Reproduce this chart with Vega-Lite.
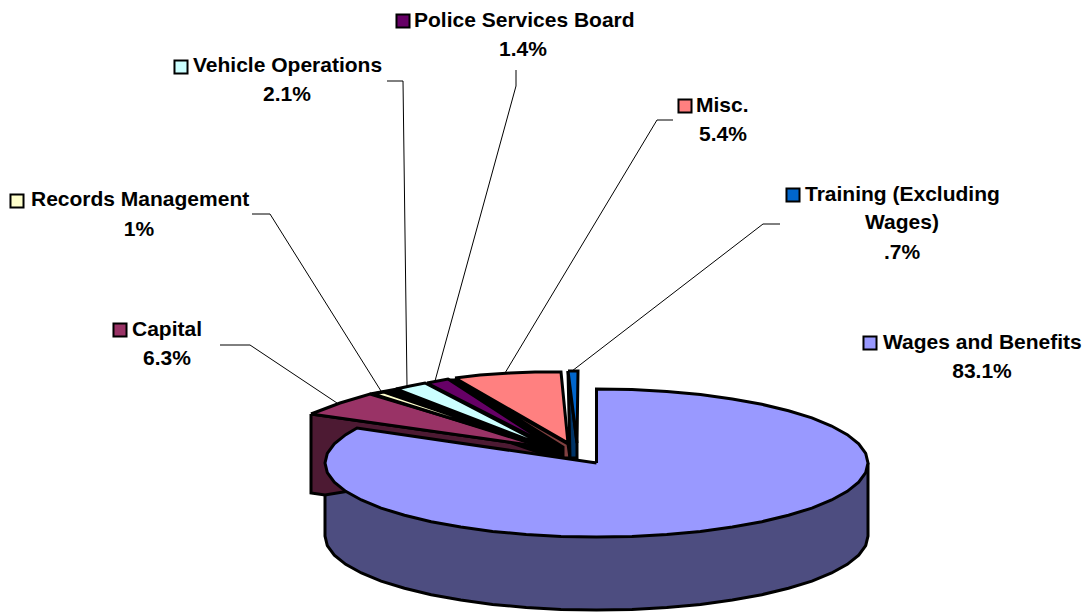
{"$schema":"https://vega.github.io/schema/vega-lite/v6.json","autosize":"none","width":1085,"height":612,"padding":0,"background":"white","view":{"stroke":null},
"datasets":{
"shapes":[
{"part":"Wages side","o":1,"x":868,"y":463},{"part":"Wages side","o":2,"x":868,"y":536},{"part":"Wages side","o":3,"x":865.7,"y":545.7},{"part":"Wages side","o":4,"x":858.7,"y":555.2},{"part":"Wages side","o":5,"x":847.3,"y":564.3},{"part":"Wages side","o":6,"x":831.6,"y":573},{"part":"Wages side","o":7,"x":811.9,"y":581.1},{"part":"Wages side","o":8,"x":788.5,"y":588.3},{"part":"Wages side","o":9,"x":761.8,"y":594.7},{"part":"Wages side","o":10,"x":732.3,"y":600.1},{"part":"Wages side","o":11,"x":700.4,"y":604.4},{"part":"Wages side","o":12,"x":666.8,"y":607.5},{"part":"Wages side","o":13,"x":632,"y":609.4},{"part":"Wages side","o":14,"x":596.5,"y":610},{"part":"Wages side","o":15,"x":561,"y":609.4},{"part":"Wages side","o":16,"x":526.2,"y":607.5},{"part":"Wages side","o":17,"x":492.6,"y":604.4},{"part":"Wages side","o":18,"x":460.8,"y":600.1},{"part":"Wages side","o":19,"x":431.2,"y":594.7},{"part":"Wages side","o":20,"x":404.5,"y":588.3},{"part":"Wages side","o":21,"x":381.1,"y":581.1},{"part":"Wages side","o":22,"x":361.4,"y":573},{"part":"Wages side","o":23,"x":345.7,"y":564.3},{"part":"Wages side","o":24,"x":334.3,"y":555.2},{"part":"Wages side","o":25,"x":327.3,"y":545.7},{"part":"Wages side","o":26,"x":325,"y":536},{"part":"Wages side","o":27,"x":325,"y":463},{"part":"Wages side","o":28,"x":868,"y":463},
{"part":"Capital side","o":1,"x":311,"y":414},{"part":"Capital side","o":2,"x":550,"y":448},{"part":"Capital side","o":3,"x":552,"y":458},{"part":"Capital side","o":4,"x":325,"y":495},{"part":"Capital side","o":5,"x":311,"y":493},{"part":"Capital side","o":6,"x":311,"y":414},
{"part":"Records side","o":1,"x":370,"y":394},{"part":"Records side","o":2,"x":397,"y":389},{"part":"Records side","o":3,"x":572,"y":443},{"part":"Records side","o":4,"x":572,"y":459},{"part":"Records side","o":5,"x":552,"y":457},{"part":"Records side","o":6,"x":370,"y":394},
{"part":"Misc gap","o":1,"x":448,"y":380},{"part":"Misc gap","o":2,"x":456,"y":380},{"part":"Misc gap","o":3,"x":568,"y":444},{"part":"Misc gap","o":4,"x":556,"y":449},{"part":"Misc gap","o":5,"x":448,"y":380},
{"part":"Records front","o":1,"x":552.5,"y":449},{"part":"Records front","o":2,"x":555,"y":449},{"part":"Records front","o":3,"x":555,"y":457},{"part":"Records front","o":4,"x":552.5,"y":457},{"part":"Records front","o":5,"x":552.5,"y":449},
{"part":"Capital","o":1,"x":311,"y":414},{"part":"Capital","o":2,"x":340,"y":403},{"part":"Capital","o":3,"x":370,"y":394},{"part":"Capital","o":4,"x":550,"y":448},{"part":"Capital","o":5,"x":311,"y":414},
{"part":"Records Management","o":1,"x":373,"y":394},{"part":"Records Management","o":2,"x":384,"y":392},{"part":"Records Management","o":3,"x":552,"y":450},{"part":"Records Management","o":4,"x":373,"y":394},
{"part":"Vehicle Operations","o":1,"x":396,"y":389},{"part":"Vehicle Operations","o":2,"x":410,"y":386},{"part":"Vehicle Operations","o":3,"x":425,"y":383},{"part":"Vehicle Operations","o":4,"x":552,"y":449},{"part":"Vehicle Operations","o":5,"x":396,"y":389},
{"part":"Police Services Board","o":1,"x":427,"y":383},{"part":"Police Services Board","o":2,"x":448,"y":379},{"part":"Police Services Board","o":3,"x":556,"y":449},{"part":"Police Services Board","o":4,"x":427,"y":383},
{"part":"Misc. side","o":1,"x":456,"y":380},{"part":"Misc. side","o":2,"x":568,"y":444},{"part":"Misc. side","o":3,"x":570,"y":458},{"part":"Misc. side","o":4,"x":563,"y":458},{"part":"Misc. side","o":5,"x":563,"y":447},{"part":"Misc. side","o":6,"x":456,"y":380},
{"part":"Misc.","o":1,"x":455,"y":378},{"part":"Misc.","o":2,"x":480,"y":375},{"part":"Misc.","o":3,"x":510,"y":373},{"part":"Misc.","o":4,"x":535,"y":372},{"part":"Misc.","o":5,"x":561,"y":372},{"part":"Misc.","o":6,"x":568,"y":443},{"part":"Misc.","o":7,"x":455,"y":378},
{"part":"Training side","o":1,"x":568,"y":371},{"part":"Training side","o":2,"x":577,"y":443},{"part":"Training side","o":3,"x":577,"y":458},{"part":"Training side","o":4,"x":570,"y":458},{"part":"Training side","o":5,"x":568,"y":371},
{"part":"Training (Excluding Wages)","o":1,"x":568,"y":371},{"part":"Training (Excluding Wages)","o":2,"x":578,"y":371},{"part":"Training (Excluding Wages)","o":3,"x":577,"y":443},{"part":"Training (Excluding Wages)","o":4,"x":568,"y":371},
{"part":"Wages and Benefits","o":1,"x":596.5,"y":463},{"part":"Wages and Benefits","o":2,"x":596.5,"y":389},{"part":"Wages and Benefits","o":3,"x":632,"y":389.6},{"part":"Wages and Benefits","o":4,"x":666.8,"y":391.5},{"part":"Wages and Benefits","o":5,"x":700.4,"y":394.6},{"part":"Wages and Benefits","o":6,"x":732.3,"y":398.9},{"part":"Wages and Benefits","o":7,"x":761.8,"y":404.3},{"part":"Wages and Benefits","o":8,"x":788.5,"y":410.7},{"part":"Wages and Benefits","o":9,"x":811.9,"y":417.9},{"part":"Wages and Benefits","o":10,"x":831.6,"y":426},{"part":"Wages and Benefits","o":11,"x":847.3,"y":434.7},{"part":"Wages and Benefits","o":12,"x":858.7,"y":443.8},{"part":"Wages and Benefits","o":13,"x":865.7,"y":453.3},{"part":"Wages and Benefits","o":14,"x":868,"y":463},{"part":"Wages and Benefits","o":15,"x":865.7,"y":472.7},{"part":"Wages and Benefits","o":16,"x":858.7,"y":482.2},{"part":"Wages and Benefits","o":17,"x":847.3,"y":491.3},{"part":"Wages and Benefits","o":18,"x":831.6,"y":500},{"part":"Wages and Benefits","o":19,"x":811.9,"y":508.1},{"part":"Wages and Benefits","o":20,"x":788.5,"y":515.3},{"part":"Wages and Benefits","o":21,"x":761.8,"y":521.7},{"part":"Wages and Benefits","o":22,"x":732.3,"y":527.1},{"part":"Wages and Benefits","o":23,"x":700.4,"y":531.4},{"part":"Wages and Benefits","o":24,"x":666.8,"y":534.5},{"part":"Wages and Benefits","o":25,"x":632,"y":536.4},{"part":"Wages and Benefits","o":26,"x":596.5,"y":537},{"part":"Wages and Benefits","o":27,"x":561,"y":536.4},{"part":"Wages and Benefits","o":28,"x":526.2,"y":534.5},{"part":"Wages and Benefits","o":29,"x":492.6,"y":531.4},{"part":"Wages and Benefits","o":30,"x":460.8,"y":527.1},{"part":"Wages and Benefits","o":31,"x":431.2,"y":521.7},{"part":"Wages and Benefits","o":32,"x":404.5,"y":515.3},{"part":"Wages and Benefits","o":33,"x":381.1,"y":508.1},{"part":"Wages and Benefits","o":34,"x":361.4,"y":500},{"part":"Wages and Benefits","o":35,"x":345.7,"y":491.3},{"part":"Wages and Benefits","o":36,"x":334.3,"y":482.2},{"part":"Wages and Benefits","o":37,"x":327.3,"y":472.7},{"part":"Wages and Benefits","o":38,"x":325,"y":463},{"part":"Wages and Benefits","o":39,"x":327.3,"y":453.3},{"part":"Wages and Benefits","o":40,"x":334.3,"y":443.8},{"part":"Wages and Benefits","o":41,"x":345.7,"y":434.7},{"part":"Wages and Benefits","o":42,"x":357,"y":428},{"part":"Wages and Benefits","o":43,"x":596.5,"y":463}
],
"leaders":[
{"k":"Capital","o":1,"x":220,"y":345},{"k":"Capital","o":2,"x":250,"y":345},{"k":"Capital","o":3,"x":337,"y":403},
{"k":"Records","o":1,"x":252,"y":214},{"k":"Records","o":2,"x":270,"y":214},{"k":"Records","o":3,"x":381,"y":391},
{"k":"Vehicle","o":1,"x":387,"y":81},{"k":"Vehicle","o":2,"x":403,"y":81},{"k":"Vehicle","o":3,"x":407,"y":386},
{"k":"Police","o":1,"x":516,"y":70},{"k":"Police","o":2,"x":516,"y":86},{"k":"Police","o":3,"x":435,"y":381},
{"k":"Misc","o":1,"x":673,"y":120},{"k":"Misc","o":2,"x":657,"y":120},{"k":"Misc","o":3,"x":505,"y":373},
{"k":"Training","o":1,"x":780,"y":224},{"k":"Training","o":2,"x":763,"y":224},{"k":"Training","o":3,"x":572,"y":371}
],
"swatches":[
{"part":"Police Services Board","x":403,"y":21},{"part":"Vehicle Operations","x":181,"y":67},{"part":"Records Management","x":17,"y":201},{"part":"Capital","x":120,"y":330},{"part":"Misc.","x":685,"y":106},{"part":"Training (Excluding Wages)","x":793,"y":195},{"part":"Wages and Benefits","x":870,"y":343}
],
"names":[
{"t":"Police Services Board","x":414,"y":21},{"t":"Vehicle Operations","x":193,"y":66},{"t":"Records Management","x":31,"y":200},{"t":"Capital","x":132,"y":330},{"t":"Misc.","x":696,"y":106},{"t":"Training (Excluding","x":805,"y":195},{"t":"Wages and Benefits","x":883,"y":343}
],
"values":[
{"t":"1.4%","x":523,"y":50},{"t":"2.1%","x":287,"y":95},{"t":"1%","x":139,"y":230},{"t":"6.3%","x":167,"y":359},{"t":"5.4%","x":723,"y":135},{"t":"Wages)","x":902,"y":223},{"t":".7%","x":902,"y":253},{"t":"83.1%","x":982,"y":372}
]},
"layer":[
{"data":{"name":"leaders"},"mark":{"type":"line","stroke":"black","strokeWidth":1,"interpolate":"linear"},"encoding":{"x":{"field":"x","type":"quantitative","scale":{"domain":[0,1085]},"axis":null},"y":{"field":"y","type":"quantitative","scale":{"domain":[612,0]},"axis":null},"detail":{"field":"k"},"order":{"field":"o"}}},
{"data":{"name":"shapes"},"mark":{"type":"line","stroke":"black","strokeWidth":3,"strokeJoin":"miter"},"encoding":{"x":{"field":"x","type":"quantitative","scale":{"domain":[0,1085]},"axis":null},"y":{"field":"y","type":"quantitative","scale":{"domain":[612,0]},"axis":null},"detail":{"field":"part"},"order":{"field":"o"},"fill":{"field":"part","type":"nominal","legend":null,"scale":{"domain":["Wages side","Capital side","Records side","Misc gap","Records front","Capital","Records Management","Vehicle Operations","Police Services Board","Misc. side","Misc.","Training side","Training (Excluding Wages)","Wages and Benefits"],"range":["#4d4d80","#4d1a33","#000000","#000000","#999966","#993366","#ffffcc","#ccffff","#660066","#804040","#ff8080","#003366","#0066cc","#9999ff"]}}}},
{"data":{"name":"swatches"},"mark":{"type":"point","shape":"square","filled":true,"size":170,"stroke":"black","strokeWidth":2,"opacity":1},"encoding":{"x":{"field":"x","type":"quantitative","scale":{"domain":[0,1085]},"axis":null},"y":{"field":"y","type":"quantitative","scale":{"domain":[612,0]},"axis":null},"fill":{"field":"part","type":"nominal","legend":null,"scale":{"domain":["Capital","Records Management","Vehicle Operations","Police Services Board","Misc.","Training (Excluding Wages)","Wages and Benefits"],"range":["#993366","#ffffcc","#ccffff","#660066","#ff8080","#0066cc","#9999ff"]}}}},
{"data":{"name":"names"},"mark":{"type":"text","align":"left","baseline":"middle","font":"Liberation Sans","fontWeight":"bold","fontSize":21,"color":"black"},"encoding":{"x":{"field":"x","type":"quantitative","scale":{"domain":[0,1085]},"axis":null},"y":{"field":"y","type":"quantitative","scale":{"domain":[612,0]},"axis":null},"text":{"field":"t"}}},
{"data":{"name":"values"},"mark":{"type":"text","align":"center","baseline":"middle","font":"Liberation Sans","fontWeight":"bold","fontSize":21,"color":"black"},"encoding":{"x":{"field":"x","type":"quantitative","scale":{"domain":[0,1085]},"axis":null},"y":{"field":"y","type":"quantitative","scale":{"domain":[612,0]},"axis":null},"text":{"field":"t"}}}
],
"resolve":{"scale":{"fill":"independent"}}
}
